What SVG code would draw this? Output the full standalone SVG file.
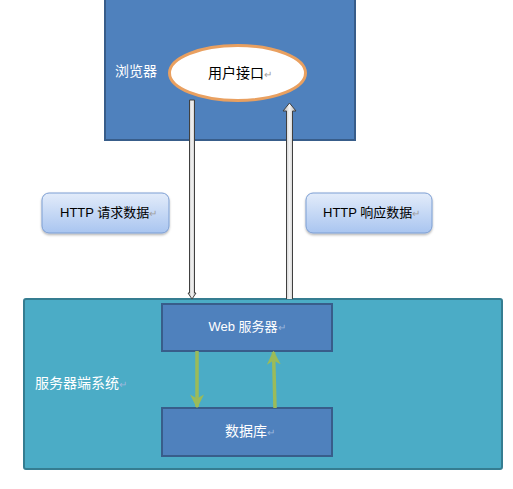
<svg xmlns="http://www.w3.org/2000/svg" width="513" height="489" viewBox="0 0 513 489">
<defs>
<linearGradient id="gBlue" x1="0" y1="0" x2="0" y2="1">
<stop offset="0" stop-color="#E3ECFA"/>
<stop offset="1" stop-color="#A9C5F0"/>
</linearGradient>
<linearGradient id="gBar" x1="0" y1="0" x2="1" y2="0">
<stop offset="0" stop-color="#B0B0B0"/>
<stop offset="0.5" stop-color="#F4F4F4"/>
<stop offset="1" stop-color="#B0B0B0"/>
</linearGradient>
<marker id="mGreen" viewBox="0 0 10 10" refX="9" refY="5" markerWidth="4" markerHeight="4" orient="auto" markerUnits="strokeWidth">
<path d="M0,0 L10,5 L0,10 L3,5 Z" fill="#9BBB59"/>
</marker>
<filter id="sh" x="-10%" y="-10%" width="120%" height="130%">
<feDropShadow dx="0" dy="1.5" stdDeviation="1.2" flood-color="#000" flood-opacity="0.3"/>
</filter>
</defs>
<style>
text{font-family:"Liberation Sans","Noto Sans CJK SC",sans-serif;}
.wt{fill:#FFFFFF;font-size:14px;}
.bk{fill:#000000;font-size:14px;}
.pm{fill:#A0A0A0;font-size:10px;}
.pmw{fill:#9DB8DD;font-size:10px;}
.dblue{fill:#4F81BD;stroke:#385D8A;stroke-width:2;}
.label{fill:url(#gBlue);stroke:#7D9FD3;stroke-width:1;}
.green{stroke:#9BBB59;stroke-width:3.5;fill:none;marker-end:url(#mGreen);}
.bar{fill:url(#gBar);stroke:#404040;stroke-width:1;}
</style>
<rect width="513" height="489" fill="#FFFFFF"/>

<g id="browser">
<rect class="dblue" x="105" y="-2" width="250" height="142"/>
<text class="wt" x="115" y="76">浏览器</text>
</g>

<g id="ui">
<ellipse cx="237.5" cy="73" rx="68" ry="27.5" fill="#FFFFFF" stroke="#E9A060" stroke-width="3"/>
<text class="bk" x="208" y="78">用户接口<tspan class="pm">↵</tspan></text>
</g>

<g id="http-req">
<rect class="label" x="42" y="193" width="127" height="40" rx="7" filter="url(#sh)"/>
<text class="bk" x="60" y="217" style="font-size:13px">HTTP 请求数据<tspan class="pm">↵</tspan></text>
</g>

<g id="http-resp">
<rect class="label" x="306" y="193" width="126" height="40" rx="7" filter="url(#sh)"/>
<text class="bk" x="323" y="217" style="font-size:13px">HTTP 响应数据<tspan class="pm">↵</tspan></text>
</g>

<g id="server">
<rect x="24" y="299" width="478" height="170" rx="2" fill="#4BACC6" stroke="#357D91" stroke-width="2"/>
<text class="wt" x="35" y="388">服务器端系统<tspan class="pmw">↵</tspan></text>
</g>

<g id="web">
<rect class="dblue" x="162" y="304" width="170" height="47"/>
<text class="wt" x="247" y="331" text-anchor="middle" style="font-size:13px">Web 服务器<tspan class="pmw">↵</tspan></text>
</g>

<g id="db">
<rect class="dblue" x="162" y="408" width="170" height="48"/>
<text class="wt" x="250" y="436" text-anchor="middle">数据库<tspan class="pmw">↵</tspan></text>
</g>

<g id="connectors">
<path class="bar" d="M189.5,100 L194.5,100 L194.5,293 L196,293 L192,299 L188,293 L189.5,293 Z"/>
<path class="bar" d="M286.5,299 L286.5,111 L283,111 L289.5,103 L296,111 L292.5,111 L292.5,299"/>
<line class="green" x1="197" y1="351" x2="197" y2="407"/>
<line class="green" x1="275" y1="408" x2="273.5" y2="352"/>
</g>
</svg>
